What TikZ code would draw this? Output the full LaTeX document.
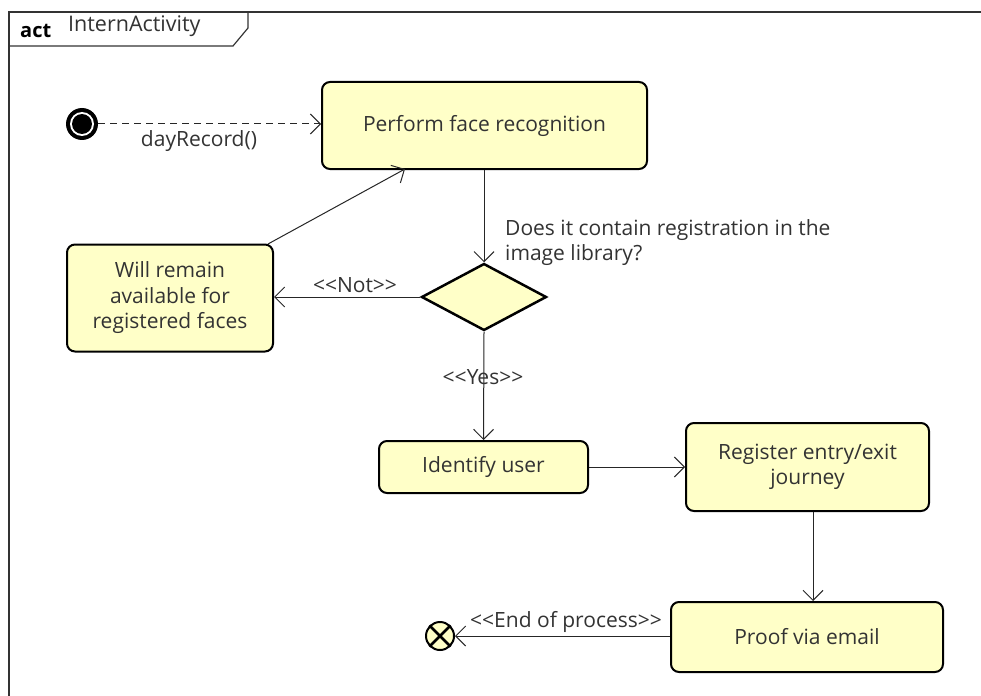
\documentclass[tikz,border=0pt]{standalone}
\usepackage{fontspec}
\setmainfont{Open Sans}
\usetikzlibrary{arrows.meta,shapes.geometric}
\definecolor{boxfill}{HTML}{FFFFC8}
\definecolor{txt}{HTML}{333333}
\tikzset{
  x=1pt,y=-1pt,
  act/.style={draw=black,line width=2pt,rounded corners=8pt,fill=boxfill,text=txt,
    font=\fontsize{21}{25.5}\selectfont,align=center,inner sep=0pt},
  flow/.style={line width=1pt,draw=black!85,-{Straight Barb[length=10pt,width=20pt,line width=1pt]}},
  lbl/.style={text=txt,font=\fontsize{21}{25}\selectfont,inner sep=0pt},
}
\begin{document}
\begin{tikzpicture}
\useasboundingbox (0,0) rectangle (981,695);
\fill[white] (0,0) rectangle (981,695);
% frame
\draw[line width=2pt,black!80] (9,700) -- (9,12) -- (990,12);
\draw[line width=1.2pt,black!80] (9,46) -- (233,46) -- (248,28) -- (248,12);
\node[anchor=base west,inner sep=0pt,font=\fontsize{20}{22}\selectfont\bfseries] (actk) at (20,38) {act};
\node[anchor=base west,lbl,font=\fontsize{21.5}{24}\selectfont] (actn) at (68,32) {InternActivity};
% nodes
\node[circle,fill=black,minimum size=32pt,inner sep=0pt] (init) at (82,124) {};
\fill[white] (init) circle (12pt);
\fill[black] (init) circle (10pt);
\node[act,minimum width=325pt,minimum height=87pt] (perf) at (484.5,125.5) {Perform face recognition};
\node[act,minimum width=206pt,minimum height=107pt] (will) at (170,298) {Will remain\\available for\\registered faces};
\node[diamond,draw=black,line width=2.5pt,fill=boxfill,minimum width=125pt,minimum height=67pt,inner sep=0pt] (dec) at (484,297) {};
\node[act,minimum width=209pt,minimum height=52pt] (ident) at (483.5,467) {Identify user};
\node[act,minimum width=243pt,minimum height=88pt] (reg) at (807.5,467) {Register entry/exit\\journey};
\node[act,minimum width=272pt,minimum height=70pt] (proof) at (807,637) {Proof via email};
\node[circle,draw=black,line width=2pt,fill=boxfill,minimum size=28pt,inner sep=0pt] (fin) at (440,636) {};
\draw[line width=2.5pt] (fin.north west) -- (fin.south east) (fin.north east) -- (fin.south west);
% connectors
\coordinate (vx) at (813,0);
\coordinate (wtop) at (268,244);
\coordinate (ptop) at (405,169);
\draw[flow,dashed,dash pattern=on 7pt off 5pt] (init) -- (perf.west |- init);
\node[lbl] (lday) at (199,141) {dayRecord()};
\draw[flow] (perf.south -| dec.north) -- (dec.north);
\node[lbl,anchor=north west,align=left,font=\fontsize{21}{25}\selectfont] (lq) at (505,219) {Does it contain registration in the\\image library?};
\draw[flow] (dec.west) -- (will.east |- dec.west);
\node[lbl] (lnot) at (355,285) {<{}<Not>{}>};
\draw[flow] (wtop) -- (ptop);
\draw[flow] (dec.south) -- (ident.north);
\node[lbl] (lyes) at (483,377) {<{}<Yes>{}>};
\draw[flow] (ident.east) -- (reg.west |- ident.east);
\draw[flow] (reg.south -| vx) -- (proof.north -| vx);
\draw[flow] (proof.west |- fin) -- (fin.east);
\node[lbl] (lend) at (566,622) {<{}<End of process>{}>};
\end{tikzpicture}
\end{document}
